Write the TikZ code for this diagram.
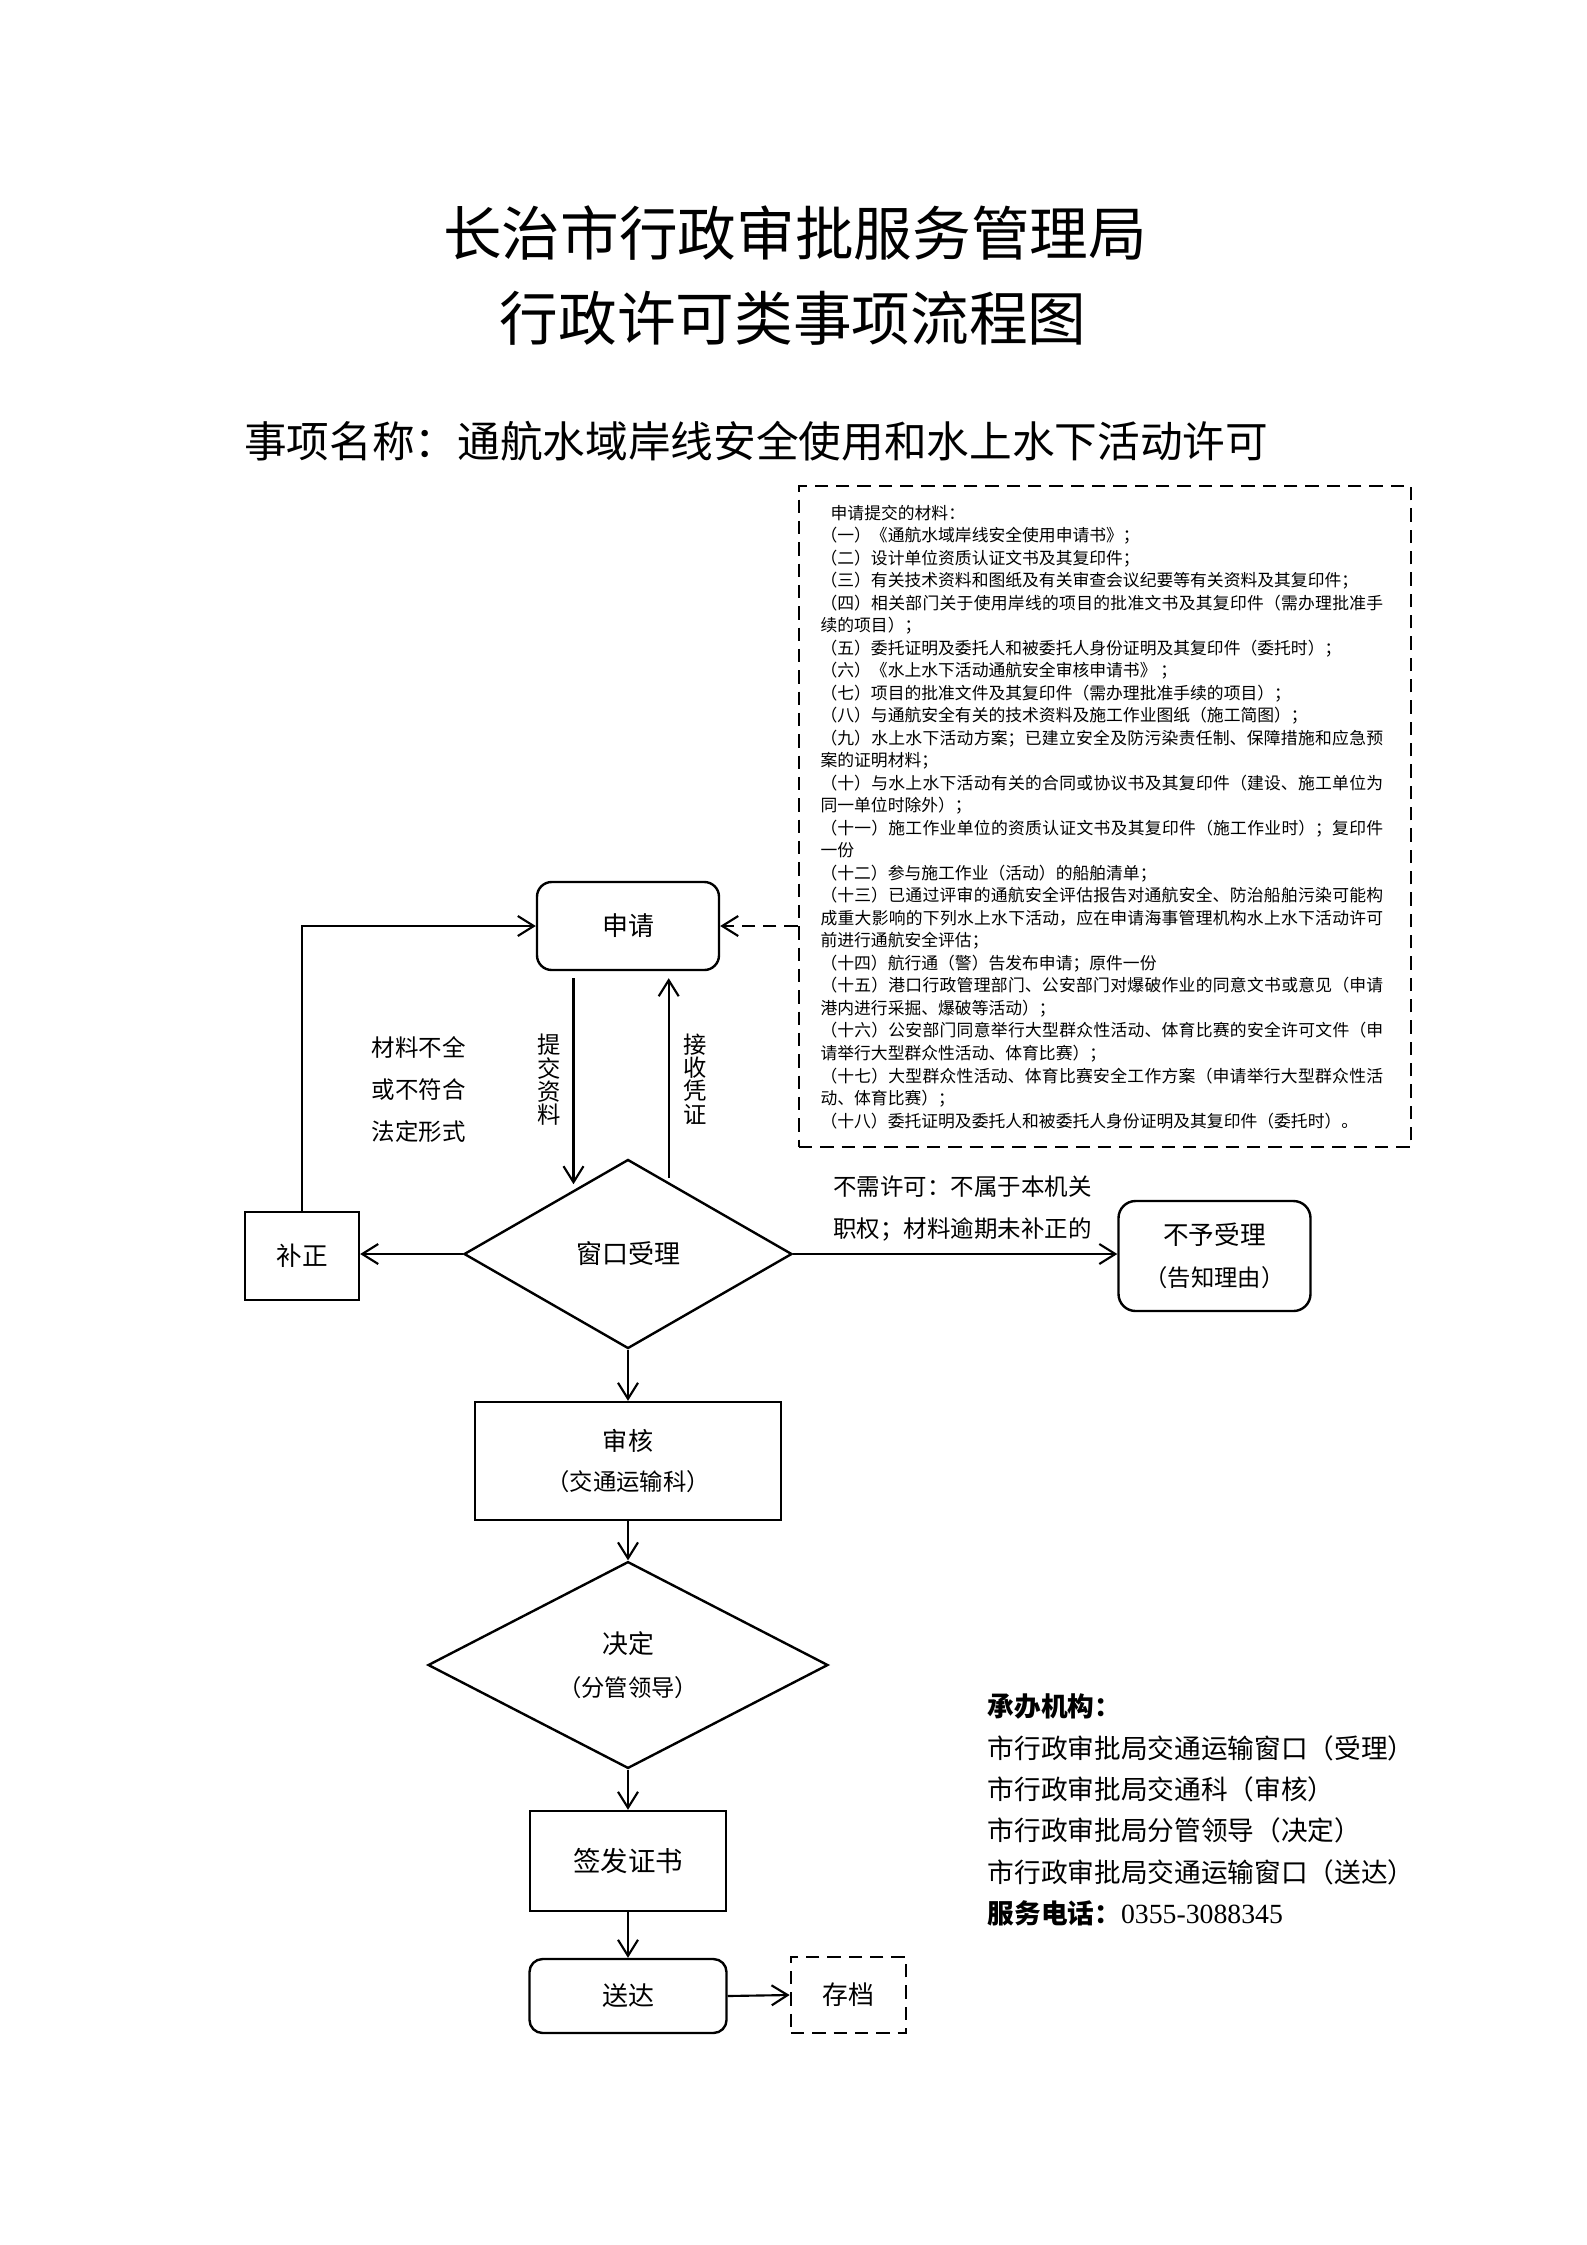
\documentclass[tikz,border=0pt]{standalone}
\usepackage{fontspec}
\setmainfont{Noto Sans CJK SC}
\newfontfamily\numfont{Liberation Serif}
\usetikzlibrary{positioning,arrows.meta,shapes.geometric,calc}
\XeTeXlinebreaklocale "zh"
\XeTeXlinebreakskip=0pt plus 1pt
\setlength{\parindent}{0pt}
\setlength{\parskip}{0pt}

\begin{document}
\begin{tikzpicture}[
  x=0.375pt, y=-0.375pt,
  line width=0.8pt,
  rbox/.style={draw, rounded corners=5.5pt, line width=0.9pt, align=center, inner sep=0pt},
  sbox/.style={draw, line width=0.9pt, align=center, inner sep=0pt},
  dbox/.style={draw, dash pattern=on 5pt off 3pt, line width=0.9pt, align=center, inner sep=0pt},
  dec/.style={draw, diamond, line width=0.9pt, align=center, inner sep=0pt},
  lbl/.style={inner sep=0pt, align=left, font=\fontsize{8.8pt}{15.8pt}\selectfont},
  vlbl/.style={inner sep=0pt, align=center, font=\fontsize{8.75pt}{8.75pt}\selectfont},
  arr/.style={-{Straight Barb[length=6pt,width=7.5pt]}}
]
\fill[white] (0,0) rectangle (1587,2245);

\node[font=\fontsize{22pt}{26pt}\selectfont, inner sep=0pt] (t1) at (795,233) {长治市行政审批服务管理局};
\node[font=\fontsize{22pt}{26pt}\selectfont, inner sep=0pt] (t2) at (793,318) {行政许可类事项流程图};
\node[font=\fontsize{16pt}{19pt}\selectfont, inner sep=0pt, anchor=west] (name) at (243,441) {事项名称：通航水域岸线安全使用和水上水下活动许可};

\node[dbox, minimum width=229.5pt, minimum height=247.9pt] (mat) at (1105,816.5) {};
\node[anchor=north west, inner sep=0pt, text width=211pt, align=justify,
      font=\fontsize{6.3pt}{8.44pt}\selectfont] (matlist) at (819.5,504) {%
\hspace*{0.6em}申请提交的材料：\par
（一）《通航水域岸线安全使用申请书》；\par
（二）设计单位资质认证文书及其复印件；\par
（三）有关技术资料和图纸及有关审查会议纪要等有关资料及其复印件；\par
（四）相关部门关于使用岸线的项目的批准文书及其复印件（需办理批准手\linebreak 续的项目）；\par
（五）委托证明及委托人和被委托人身份证明及其复印件（委托时）；\par
（六）《水上水下活动通航安全审核申请书》 ；\par
（七）项目的批准文件及其复印件（需办理批准手续的项目）；\par
（八）与通航安全有关的技术资料及施工作业图纸（施工简图）；\par
（九）水上水下活动方案；已建立安全及防污染责任制、保障措施和应急预\linebreak 案的证明材料；\par
（十）与水上水下活动有关的合同或协议书及其复印件（建设、施工单位为\linebreak 同一单位时除外）；\par
（十一）施工作业单位的资质认证文书及其复印件（施工作业时）；复印件\linebreak 一份\par
（十二）参与施工作业（活动）的船舶清单；\par
（十三）已通过评审的通航安全评估报告对通航安全、防治船舶污染可能构\linebreak 成重大影响的下列水上水下活动，应在申请海事管理机构水上水下活动许可\linebreak 前进行通航安全评估；\par
（十四）航行通（警）告发布申请；原件一份\par
（十五）港口行政管理部门、公安部门对爆破作业的同意文书或意见（申请\linebreak 港内进行采掘、爆破等活动）；\par
（十六）公安部门同意举行大型群众性活动、体育比赛的安全许可文件（申\linebreak 请举行大型群众性活动、体育比赛）；\par
（十七）大型群众性活动、体育比赛安全工作方案（申请举行大型群众性活\linebreak 动、体育比赛）；\par
（十八）委托证明及委托人和被委托人身份证明及其复印件（委托时）。};

\node[rbox, minimum width=68.25pt, minimum height=33pt, font=\fontsize{9.75pt}{12pt}\selectfont] (sq) at (628,926) {申请};
\node[dec, minimum width=123pt, minimum height=70.9pt, font=\fontsize{9.75pt}{12pt}\selectfont] (ck) at (628,1254) {窗口受理};
\node[sbox, minimum width=42.75pt, minimum height=33pt, font=\fontsize{9.6pt}{12pt}\selectfont] (bz) at (302,1256) {补正};
\node[rbox, rounded corners=6.4pt, minimum width=72pt, minimum height=41.25pt, font=\fontsize{9.6pt}{15.75pt}\selectfont] (by) at (1214.5,1256) {不予受理\\{\fontsize{8.75pt}{15.75pt}\selectfont （告知理由）}};
\node[sbox, minimum width=114.75pt, minimum height=44.25pt, font=\fontsize{9.4pt}{15pt}\selectfont] (sh) at (628,1461) {审核\\{\fontsize{8.75pt}{15pt}\selectfont （交通运输科）}};
\node[dec, minimum width=150pt, minimum height=73.3pt, font=\fontsize{9.7pt}{16pt}\selectfont] (jd) at (628,1665) {决定\\{\fontsize{8.75pt}{16pt}\selectfont （分管领导）}};
\node[sbox, minimum width=73.5pt, minimum height=37.5pt, font=\fontsize{10.3pt}{12pt}\selectfont] (qf) at (628,1861) {签发证书};
\node[rbox, rounded corners=4.9pt, minimum width=73.9pt, minimum height=27.75pt, font=\fontsize{9.75pt}{12pt}\selectfont] (sd) at (628,1996) {送达};
\node[dbox, minimum width=43.1pt, minimum height=28.5pt, font=\fontsize{9.7pt}{12pt}\selectfont] (cd) at (848.3,1995) {存档};

\node[lbl] (bq) at (418.6,1089.3) {材料不全\\或不符合\\法定形式};
\node[vlbl] (tj) at (549,1080) {提\\交\\资\\料};
\node[vlbl] (js) at (695,1079) {接\\收\\凭\\证};
\node[lbl, anchor=west] (bx) at (832.3,1208.8) {不需许可：不属于本机关\\职权；材料逾期未补正的};

\node[inner sep=0pt, anchor=west, align=left, font=\fontsize{10pt}{15.5pt}\selectfont] (org) at (986.7,1810) {%
\textbf{承办机构：}\\
市行政审批局交通运输窗口（受理）\\
市行政审批局交通科（审核）\\
市行政审批局分管领导（决定）\\
市行政审批局交通运输窗口（送达）\\
\textbf{服务电话：}{\numfont\fontsize{10.4pt}{15.5pt}\selectfont 0355-3088345}};

\draw[arr, dash pattern=on 5pt off 3pt] (mat.west |- sq.east) -- (sq.east);
\draw[arr] (bz.north) |- (sq.west);
\draw[arr] ($(sq.south)+(-54.5,7)$) -- ($(sq.south)+(-54.5,213)$);
\draw[arr] ($(sq.south)+(40.7,207)$) -- ($(sq.south)+(40.7,7)$);
\draw[arr] (ck.west) -- (ck.west -| bz.east);
\draw[arr] (ck.east) -- (ck.east -| by.west);
\draw[arr] (ck.south) -- (sh.north);
\draw[arr] (sh.south) -- (jd.north);
\draw[arr] (jd.south) -- (qf.north);
\draw[arr] (qf.south) -- (sd.north);
\draw[arr] (sd.east) -- (cd.west);
\end{tikzpicture}
\end{document}
